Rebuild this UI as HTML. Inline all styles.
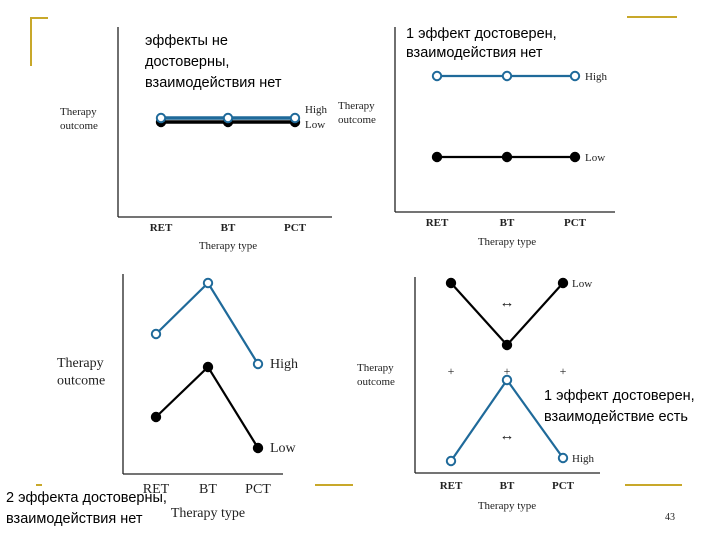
<!DOCTYPE html>
<html><head><meta charset="utf-8"><style>
body{margin:0;background:#fff;width:720px;height:540px;overflow:hidden}
svg{display:block}
.ru{font-family:"Liberation Sans",sans-serif;font-size:14.5px;fill:#000}
.se{font-family:"Liberation Serif",serif;fill:#222}
</style></head><body>
<svg id="s" width="720" height="540">
<g stroke="#c8a82a" stroke-width="2" fill="none">
<polyline points="31,66 31,18 48,18"/>
<line x1="627" y1="17" x2="677" y2="17"/>
<line x1="36" y1="485" x2="42" y2="485"/>
<line x1="315" y1="485" x2="353" y2="485"/>
<line x1="625" y1="485" x2="682" y2="485"/>
</g>
<text class="ru" x="145" y="45"><tspan x="145">эффекты не</tspan><tspan x="145" dy="21">достоверны,</tspan><tspan x="145" dy="21">взаимодействия нет</tspan></text>
<text class="ru" x="406" y="38"><tspan x="406">1 эффект достоверен,</tspan><tspan x="406" dy="19">взаимодействия нет</tspan></text>
<text class="ru" x="544" y="400"><tspan x="544">1 эффект достоверен,</tspan><tspan x="544" dy="21">взаимодействие есть</tspan></text>
<text class="se" x="665" y="520" font-size="10">43</text>
</svg>
<script>
const categories=["RET","BT","PCT"];
const c1High=[49.5,49.5,49.5], c1Low=[47.5,47.5,47.5];
const c2High=[68,68,68], c2Low=[27.5,27.5,27.5];
const c3High=[70,95.5,55], c3Low=[28.5,53.5,13];
const c4High=[6,46.5,7.5], c4Low=[95,64,95];
const seriesLabels=["High","Low"];
const NS="http://www.w3.org/2000/svg", svg=document.getElementById('s');
function mk(t,a,p){const e=document.createElementNS(NS,t);for(const k in a)e.setAttribute(k,a[k]);(p||svg).appendChild(e);return e;}
const charts=[
 {ax:118,top:27,y0:217,right:332,xs:[161,228,295],hi:c1High,lo:c1Low,ol:[60,115],lab:305,fs:11,labY:[113,128],tick:231,tt:249,sw:3.5,bold:true},
 {ax:395,top:27,y0:212,right:615,xs:[437,507,575],hi:c2High,lo:c2Low,ol:[338,109],lab:585,fs:11,labY:null,tick:226,tt:245,sw:2.2,bold:true},
 {ax:123,top:274,y0:474,right:283,xs:[156,208,258],hi:c3High,lo:c3Low,ol:[57,367],lab:270,fs:14,labY:null,tick:493,tt:517,sw:2.2,bold:false},
 {ax:415,top:277,y0:473,right:600,xs:[451,507,563],hi:c4High,lo:c4Low,ol:[357,371],lab:572,fs:11,labY:null,tick:489,tt:509,extra:true,sw:2.2,bold:true}
];
charts.forEach((c,i)=>{
 const g=mk('g',{});
 
 
 const y=v=>c.y0-v*2, x=j=>c.xs[j];
 const ya=mk('line',{x1:c.ax,y1:c.top,x2:c.ax,y2:c.y0,stroke:'#222','stroke-width':1.3},g);
 
 
 const xa=mk('line',{x1:c.ax,y1:c.y0,x2:c.right,y2:c.y0,stroke:'#222','stroke-width':1.3},g);
 
 
 categories.forEach((k,j)=>{const t=mk('text',{x:x(j),y:c.tick,'text-anchor':'middle','class':'se','font-size':c.fs,'font-weight':c.bold?'bold':'normal'},g);t.textContent=k;
  
  });
 const tt=mk('text',{x:x(1),y:c.tt,'text-anchor':'middle','class':'se','font-size':c.fs},g);tt.textContent='Therapy type';
 
 
 const yt=mk('text',{x:c.ol[0],y:c.ol[1],'class':'se','font-size':c.fs},g);
 
 
 const a=mk('tspan',{x:c.ol[0]},yt);a.textContent='Therapy';
 const b=mk('tspan',{x:c.ol[0],dy:c.fs*1.25},yt);b.textContent='outcome';
 [[c.lo,'#000',true,'Low'],[c.hi,'#1f6a9a',false,'High']].forEach(([vals,col,filled,name])=>{
  const l=mk('polyline',{points:vals.map((v,j)=>x(j)+','+y(v)).join(' '),fill:'none',stroke:col,'stroke-width':c.sw},g);
  
  
  vals.forEach((v,j)=>{const p=mk('circle',{cx:x(j),cy:y(v),r:4.2,fill:filled?'#000':'#fff',stroke:col,'stroke-width':2},g);
   
   });
  const ly=c.labY?(name=='High'?c.labY[0]:c.labY[1]):y(vals[2])+4;
  const lt=mk('text',{x:c.lab,y:ly,'class':'se','font-size':c.fs},g);lt.textContent=name;
  
  
 });
 if(c.extra){
  categories.forEach((k,j)=>{const t=mk('text',{x:x(j),y:375,'text-anchor':'middle','class':'se','font-size':12},g);t.textContent='+';
   
   });
  [303,436].forEach(yy=>{const t=mk('text',{x:x(1),y:yy+4,'text-anchor':'middle','class':'se','font-size':15},g);t.textContent='↔';
   
   });
 }
});
const t3=mk('text',{x:6,y:502,'class':'ru'});


const s1=mk('tspan',{x:6},t3);s1.textContent='2 эффекта достоверны,';
const s2=mk('tspan',{x:6,dy:21},t3);s2.textContent='взаимодействия нет';
</script>
</body></html>
